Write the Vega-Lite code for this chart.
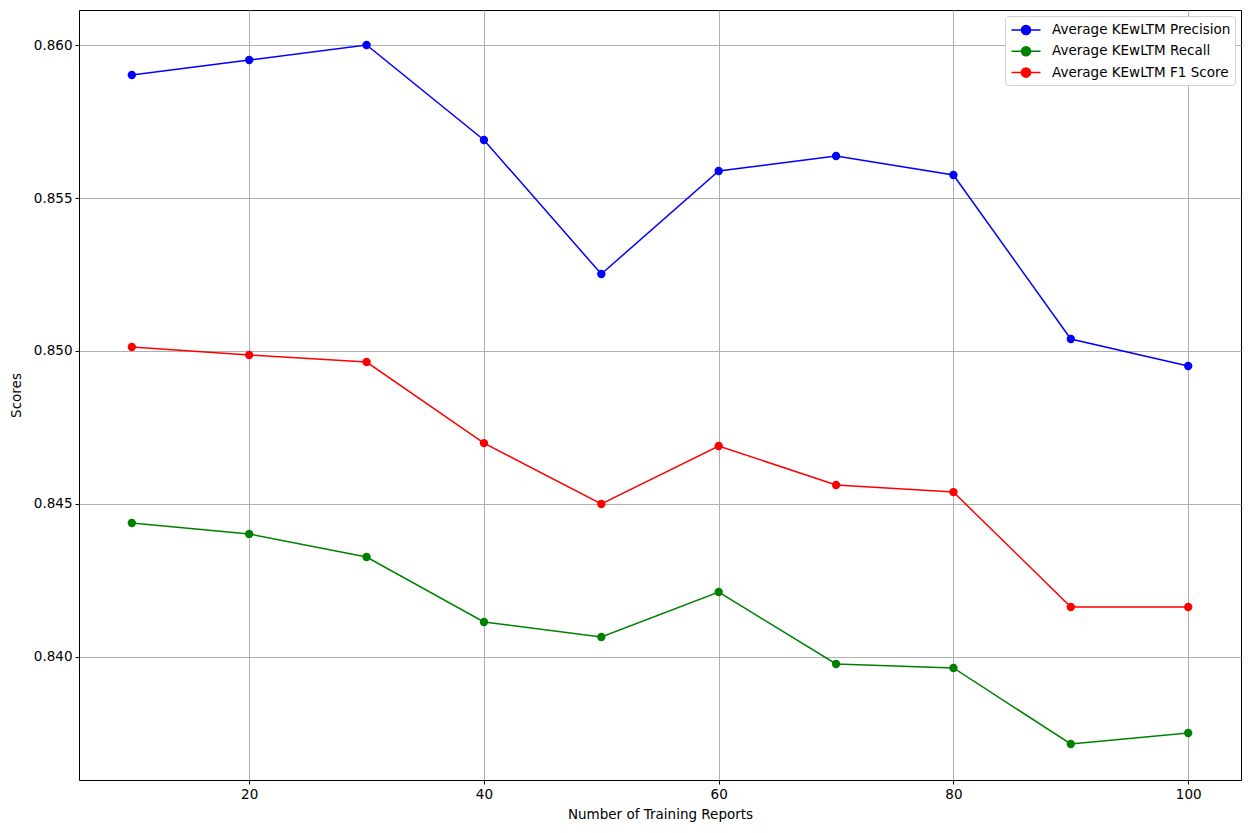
{
  "$schema": "https://vega.github.io/schema/vega-lite/v6.json",
  "autosize": "none",
  "width": 1162,
  "height": 770,
  "padding": {"left": 79, "top": 10, "right": 10, "bottom": 53},
  "background": "white",
  "config": {
    "font": "DejaVu Sans",
    "view": {"stroke": "black", "strokeWidth": 1},
    "axis": {
      "labelFont": "DejaVu Sans", "labelFontSize": 13.5, "labelColor": "black",
      "titleFont": "DejaVu Sans", "titleFontSize": 13.5, "titleColor": "black", "titleFontWeight": "normal",
      "domain": false, "tickColor": "black", "tickSize": 4, "tickWidth": 1,
      "gridColor": "#b0b0b0", "gridWidth": 1, "gridOpacity": 1, "labelPadding": 3
    },
    "legend": {
      "labelFont": "DejaVu Sans", "labelFontSize": 13.5, "labelColor": "black", "labelLimit": 400
    }
  },
  "data": {
    "values": [
      {"x": 10, "metric": "Average KEwLTM Precision", "value": 0.85902},
      {"x": 20, "metric": "Average KEwLTM Precision", "value": 0.85951},
      {"x": 30, "metric": "Average KEwLTM Precision", "value": 0.86000},
      {"x": 40, "metric": "Average KEwLTM Precision", "value": 0.856895},
      {"x": 50, "metric": "Average KEwLTM Precision", "value": 0.852516},
      {"x": 60, "metric": "Average KEwLTM Precision", "value": 0.855882},
      {"x": 70, "metric": "Average KEwLTM Precision", "value": 0.856373},
      {"x": 80, "metric": "Average KEwLTM Precision", "value": 0.855752},
      {"x": 90, "metric": "Average KEwLTM Precision", "value": 0.850392},
      {"x": 100, "metric": "Average KEwLTM Precision", "value": 0.84951},
      {"x": 10, "metric": "Average KEwLTM Recall", "value": 0.84438},
      {"x": 20, "metric": "Average KEwLTM Recall", "value": 0.84402},
      {"x": 30, "metric": "Average KEwLTM Recall", "value": 0.843268},
      {"x": 40, "metric": "Average KEwLTM Recall", "value": 0.841144},
      {"x": 50, "metric": "Average KEwLTM Recall", "value": 0.840654},
      {"x": 60, "metric": "Average KEwLTM Recall", "value": 0.842124},
      {"x": 70, "metric": "Average KEwLTM Recall", "value": 0.839771},
      {"x": 80, "metric": "Average KEwLTM Recall", "value": 0.839641},
      {"x": 90, "metric": "Average KEwLTM Recall", "value": 0.837157},
      {"x": 100, "metric": "Average KEwLTM Recall", "value": 0.837516},
      {"x": 10, "metric": "Average KEwLTM F1 Score", "value": 0.85013},
      {"x": 20, "metric": "Average KEwLTM F1 Score", "value": 0.84987},
      {"x": 30, "metric": "Average KEwLTM F1 Score", "value": 0.84964},
      {"x": 40, "metric": "Average KEwLTM F1 Score", "value": 0.84699},
      {"x": 50, "metric": "Average KEwLTM F1 Score", "value": 0.845},
      {"x": 60, "metric": "Average KEwLTM F1 Score", "value": 0.846895},
      {"x": 70, "metric": "Average KEwLTM F1 Score", "value": 0.84562},
      {"x": 80, "metric": "Average KEwLTM F1 Score", "value": 0.84539},
      {"x": 90, "metric": "Average KEwLTM F1 Score", "value": 0.841634},
      {"x": 100, "metric": "Average KEwLTM F1 Score", "value": 0.841634}
    ]
  },
  "encoding": {
    "x": {
      "field": "x", "type": "quantitative",
      "scale": {"domain": [5.5, 104.5], "nice": false, "zero": false},
      "axis": {"title": "Number of Training Reports", "values": [20, 40, 60, 80, 100], "format": "d", "titlePadding": 7}
    },
    "y": {
      "field": "value", "type": "quantitative",
      "scale": {"domain": [0.83598, 0.861144], "nice": false, "zero": false},
      "axis": {"title": "Scores", "values": [0.840, 0.845, 0.850, 0.855, 0.860], "format": ".3f", "titlePadding": 10}
    },
    "color": {
      "field": "metric", "type": "nominal",
      "scale": {
        "domain": ["Average KEwLTM Precision", "Average KEwLTM Recall", "Average KEwLTM F1 Score"],
        "range": ["#0000ff", "#008000", "#ff0000"]
      },
      "legend": {
        "title": null, "orient": "top-right", "offset": 6,
        "fillColor": "white", "strokeColor": "#d0d0d0", "cornerRadius": 3,
        "padding": 4, "rowPadding": 3.3,
        "symbolType": "M-1.6,0L1.6,0M-0.5,0A0.5,0.5 0 1,0 0.5,0A0.5,0.5 0 1,0 -0.5,0Z",
        "symbolSize": 330, "symbolStrokeWidth": 1.5, "symbolOpacity": 1,
        "symbolOffset": 7,
        "labelOffset": 16
      }
    }
  },
  "layer": [
    {"mark": {"type": "line", "strokeWidth": 1.5}},
    {"mark": {"type": "point", "filled": true, "opacity": 1, "size": 70}}
  ]
}
